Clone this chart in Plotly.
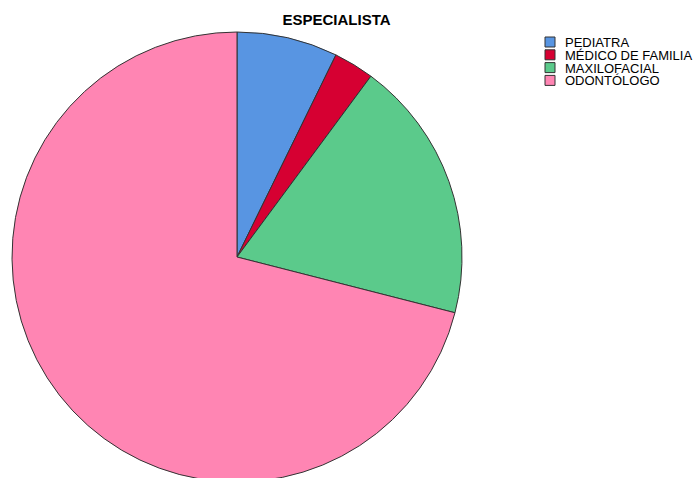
import plotly.graph_objects as go

labels = ["PEDIATRA", "MÉDICO DE FAMILIA", "MAXILOFACIAL", "ODONTÓLOGO"]
values = [5, 2, 13, 49]
colors = ["#5895E2", "#D60032", "#5BCA8B", "#FF85B3"]

W, H = 696, 484

fig = go.Figure(go.Pie(
    labels=labels, values=values, sort=False, direction="clockwise", rotation=0,
    marker=dict(colors=colors, line=dict(color="#333333", width=1)),
    textinfo="none", hoverinfo="label+value+percent", showlegend=False,
    domain=dict(x=[12 / W, 462 / W], y=[(H - 482) / H, (H - 32) / H]),
))

# manual compact legend (pixel layout converted to paper coordinates)
leg_x0, sq, row_top, row_h, text_x = 545, 10, 37, 12.8, 563
shapes, annos = [], []
for i, (lab, col) in enumerate(zip(labels, colors)):
    top = row_top + i * row_h
    shapes.append(dict(type="rect", xref="paper", yref="paper",
                       x0=leg_x0 / W, x1=(leg_x0 + sq) / W,
                       y0=1 - (top + sq) / H, y1=1 - top / H,
                       fillcolor=col, line=dict(color="#333333", width=1)))
    annos.append(dict(text=lab, xref="paper", yref="paper", showarrow=False,
                      x=text_x / W, y=1 - (top + sq / 2 + 0.5) / H,
                      xanchor="left", yanchor="middle",
                      font=dict(size=13, color="#000000")))

fig.update_layout(
    width=W, height=H, margin=dict(l=0, r=0, t=0, b=0),
    paper_bgcolor="white", plot_bgcolor="white",
    font=dict(family="Arial, Liberation Sans, sans-serif", color="#000000"),
    title=dict(text="<b>ESPECIALISTA</b>", x=336.5 / W, xanchor="center",
               y=1 - 20 / H, yanchor="middle", font=dict(size=15)),
    shapes=shapes, annotations=annos, showlegend=False,
)

fig.write_html("out.html")
